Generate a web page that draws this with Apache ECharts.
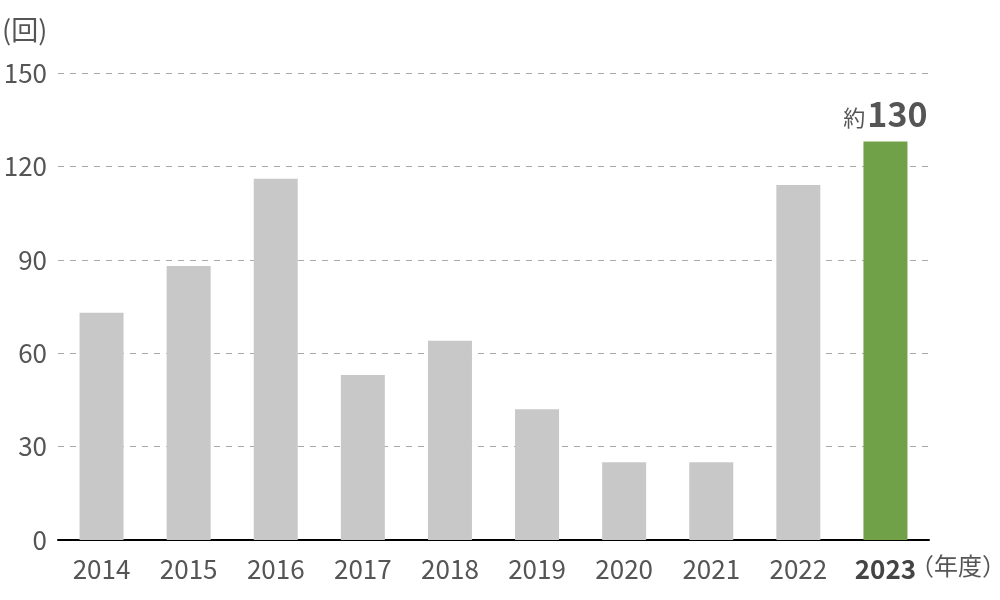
<!DOCTYPE html>
<html><head><meta charset="utf-8">
<script src="https://cdn.jsdelivr.net/npm/echarts@6/dist/echarts.min.js"></script>
<style>html,body{margin:0;padding:0;background:#fff}#c{width:1000px;height:600px}</style>
</head><body><div id="c"></div>
<script>
const categories = ['2014','2015','2016','2017','2018','2019','2020','2021','2022','2023'];
const values = [73, 88, 116, 53, 64, 42, 25, 25, 114, 128];
const yTicks = [0, 30, 60, 90, 120, 150];
const FONT = '"Noto Sans CJK JP", "Noto Sans", sans-serif';
const chart = echarts.init(document.getElementById('c'));
chart.setOption({
  animation: false,
  grid: {left: 58, right: 71, top: 73, bottom: 60, containLabel: false},
  xAxis: {
    type: 'category', data: categories,
    axisLine: {lineStyle: {color: '#000', width: 2}},
    axisTick: {show: false},
    axisLabel: {
      interval: 0, margin: 16, fontSize: 26, color: '#555', fontFamily: FONT,
      formatter: (v) => v === '2023' ? '{b|' + v + '}' : v,
      rich: {b: {fontSize: 26, fontWeight: 'bold', color: '#444', fontFamily: FONT}}
    }
  },
  yAxis: {
    type: 'value', min: yTicks[0], max: yTicks[yTicks.length-1], interval: 30,
    axisLine: {show: false}, axisTick: {show: false},
    axisLabel: {margin: 11, fontSize: 26, color: '#555', fontFamily: FONT},
    splitLine: {lineStyle: {color: '#aaa', type: [6, 6], width: 1}}
  },
  series: [{
    type: 'bar', barWidth: 44,
    data: values.map((v, i) => ({
      value: v,
      itemStyle: {color: i === values.length - 1 ? '#70a048' : '#c8c8c8'},
      label: i === values.length - 1 ? {
        show: true, position: 'top', distance: 10,
        formatter: '{a|約}{b|130}',
        rich: {
          a: {fontSize: 22, color: '#555', fontFamily: FONT, verticalAlign: 'bottom', padding: [0,2,3,0]},
          b: {fontSize: 34, fontWeight: 'bold', color: '#555', fontFamily: FONT}
        }
      } : {show: false}
    }))
  }],
  graphic: [
    {type: 'text', left: 2, top: 16, style: {text: '(回)', fontSize: 27, fill: '#555', fontFamily: FONT}},
    {type: 'text', left: 910, top: 554, style: {text: '（年度）', fontSize: 24, fill: '#555', fontFamily: FONT}}
  ]
});
</script></body></html>
